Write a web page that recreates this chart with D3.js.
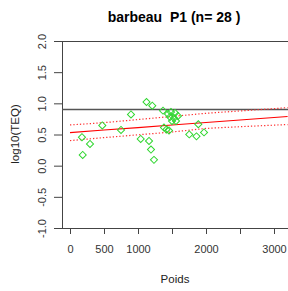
<!DOCTYPE html>
<html>
<head>
<meta charset="utf-8">
<script src="https://cdn.jsdelivr.net/npm/d3@7"></script>
<style>
  body { margin: 0; background: #fff; }
  svg { display: block; font-family: "Liberation Sans", Arial, sans-serif; }
</style>
</head>
<body>
<div id="chart"></div>
<script>
// points: poids vs log10(TEQ)
var poids = [187, 176, 294, 475, 750, 897, 1040, 1125, 1162, 1191, 1210, 1235, 1368, 1382,
             1419, 1456, 1754, 1860, 1887, 1971, 1441, 1485, 1544, 1471, 1529, 1588, 1500, 1559];
var teq   = [0.173, 0.457, 0.349, 0.646, 0.574, 0.822, 0.429, 1.022, 0.397, 0.258, 0.963, 0.093, 0.883, 0.611,
             0.582, 0.566, 0.502, 0.470, 0.665, 0.534, 0.830, 0.862, 0.846, 0.782, 0.766, 0.798, 0.718, 0.718];

// regression + band
var fitX  = [0, 500, 1000, 1500, 2000, 2500, 3000, 3200];
var fit   = [0.530, 0.571, 0.611, 0.652, 0.692, 0.733, 0.773, 0.789];
var upper = [0.653, 0.690, 0.740, 0.790, 0.840, 0.878, 0.915, 0.932];
var lower = [0.402, 0.450, 0.495, 0.540, 0.598, 0.625, 0.650, 0.660];

var refLine = 0.9;
var xTicks = [0, 500, 1000, 1500, 2000, 2500, 3000];
var xLabels = [0, 500, 1000, 2000, 3000];
var yTicks = [-1.0, -0.5, 0.0, 0.5, 1.0, 1.5, 2.0];

var W = 288, H = 291;
var box = {left: 62, right: 292, top: 41, bottom: 228};

var svg = d3.select("#chart").append("svg").attr("width", W).attr("height", H);

var x = d3.scaleLinear().domain([0, 3000]).range([70, 274]);
var y = d3.scaleLinear().domain([-1, 2]).range([box.bottom, box.top]);

svg.append("clipPath").attr("id", "plotclip").append("rect")
    .attr("x", box.left).attr("y", box.top)
    .attr("width", box.right - box.left).attr("height", box.bottom - box.top);

// axes (R style: ticks outside, labels only where they fit)
var ax = svg.append("g").attr("transform", "translate(0," + box.bottom + ")")
    .call(d3.axisBottom(x).tickValues(xTicks).tickSize(6).tickSizeOuter(0)
        .tickFormat(d => xLabels.indexOf(d) >= 0 ? d : ""));
ax.select(".domain").remove();
ax.selectAll("line").attr("stroke", "#444");
ax.selectAll("text").attr("y", 17).attr("font-size", 11).attr("fill", "#333")
    .attr("font-family", "Liberation Sans, Arial, sans-serif");

var ay = svg.append("g").attr("transform", "translate(" + box.left + ",0)")
    .call(d3.axisLeft(y).tickValues(yTicks).tickSize(8).tickSizeOuter(0).tickFormat(d3.format(".1f")));
ay.select(".domain").remove();
ay.selectAll("line").attr("stroke", "#444");
ay.selectAll("text")
    .attr("x", 0).attr("dy", null).attr("y", 0)
    .attr("transform", "translate(-16,0) rotate(-90)")
    .attr("text-anchor", "middle")
    .attr("font-size", 11).attr("fill", "#333")
    .attr("font-family", "Liberation Sans, Arial, sans-serif")
    .text(d => d3.format(".1f")(d).replace("−", "-"));

// plot box
svg.append("rect")
    .attr("x", box.left + 0.5).attr("y", box.top + 0.5)
    .attr("width", box.right - box.left).attr("height", box.bottom - box.top)
    .attr("fill", "none").attr("stroke", "#444").attr("stroke-width", 1);

var plot = svg.append("g").attr("clip-path", "url(#plotclip)");

plot.append("line")
    .attr("x1", box.left).attr("x2", box.right)
    .attr("y1", y(refLine)).attr("y2", y(refLine))
    .attr("stroke", "#555").attr("stroke-width", 1.6);

var line = d3.line().x((d, i) => x(fitX[i])).y(d => y(d));

plot.append("path").datum(upper).attr("d", line)
    .attr("fill", "none").attr("stroke", "#ff3030").attr("stroke-width", 1.2).attr("stroke-dasharray", "1.3,2");
plot.append("path").datum(lower).attr("d", line)
    .attr("fill", "none").attr("stroke", "#ff3030").attr("stroke-width", 1.2).attr("stroke-dasharray", "1.3,2");
plot.append("path").datum(fit).attr("d", line)
    .attr("fill", "none").attr("stroke", "#ff0000").attr("stroke-width", 1.1);

var diamond = d3.symbol().type(d3.symbolSquare).size(25);
plot.selectAll(".pt").data(poids).join("path").attr("class", "pt")
    .attr("d", diamond)
    .attr("transform", (d, i) => "translate(" + x(d) + "," + y(teq[i]) + ") rotate(45)")
    .attr("fill", "none").attr("stroke", "#2fd62f").attr("stroke-width", 1);

// titles
svg.append("text").attr("x", 174).attr("y", 22)
    .attr("text-anchor", "middle").attr("font-size", 14).attr("font-weight", "bold")
    .style("white-space", "pre").text("barbeau  P1 (n= 28 )");

svg.append("text").attr("x", 175).attr("y", 283)
    .attr("text-anchor", "middle").attr("font-size", 11.5).attr("fill", "#222")
    .text("Poids");

svg.append("text").attr("transform", "translate(19,134) rotate(-90)")
    .attr("text-anchor", "middle").attr("font-size", 11.5).attr("fill", "#222")
    .text("log10(TEQ)");
</script>
</body>
</html>
